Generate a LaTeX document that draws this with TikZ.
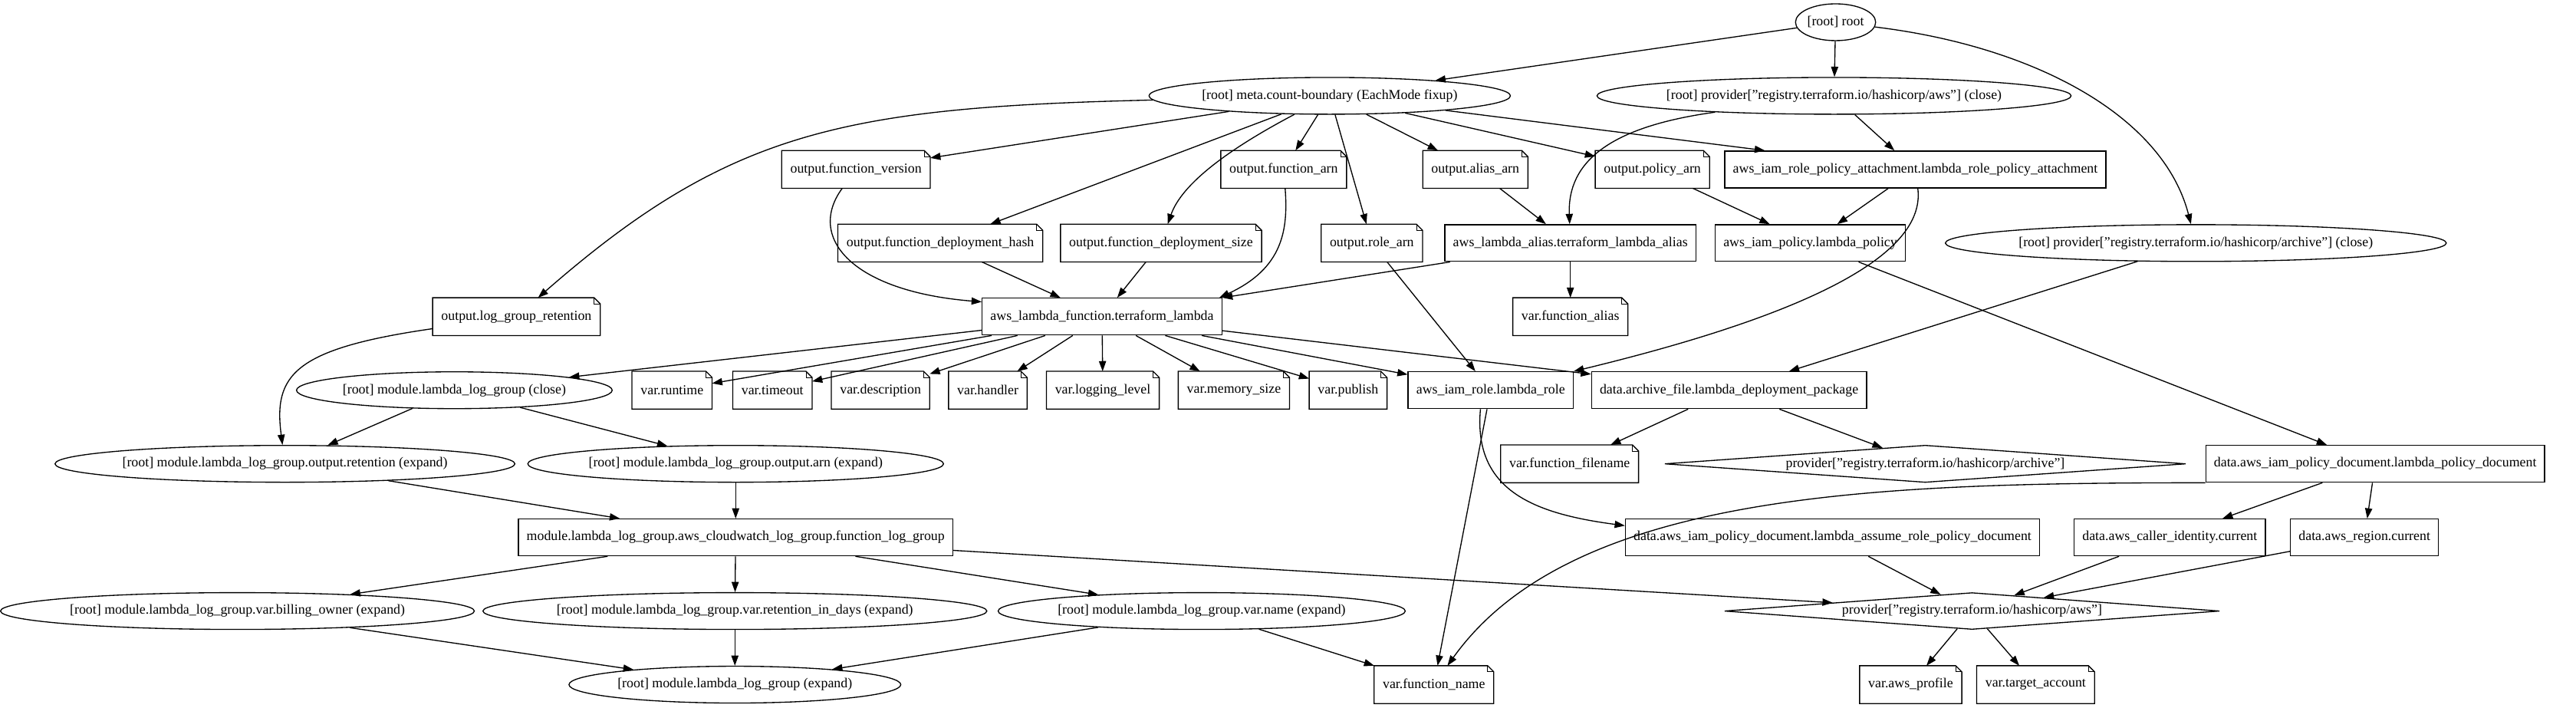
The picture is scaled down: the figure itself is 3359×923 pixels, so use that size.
\documentclass[tikz,border=0pt]{standalone}
\usepackage{fontspec}
\setmainfont{Liberation Serif}
\usetikzlibrary{shapes.geometric,arrows.meta}

\tikzset{
  gnode/.style={font=\fontsize{13.4}{16}\selectfont, inner xsep=8pt, inner ysep=0pt,
    minimum height=36pt, minimum width=54pt, line width=1pt},
  boxnode/.style={gnode, rectangle, draw},
  ovalnode/.style={gnode, ellipse, draw, inner xsep=0pt},
  notenode/.style={gnode, rectangle, append after command={\pgfextra{\let\thenote\tikzlastnode
      \draw[line width=1pt] (\thenote.north west) -- ([xshift=-6pt]\thenote.north east)
        -- ([yshift=-6pt]\thenote.north east) -- (\thenote.south east)
        -- (\thenote.south west) -- cycle;
      \draw[line width=0.6pt] ([xshift=-6pt]\thenote.north east) |- ([yshift=-6pt]\thenote.north east);}}},
  provnode/.style={gnode, diamond, draw, aspect=13.6, inner xsep=0pt, inner ysep=2.3pt},
  dep/.style={-{Triangle[length=10pt,width=7pt]}, line width=1pt},
}

\begin{document}
\begin{tikzpicture}[x=0.75pt, y=-0.75pt]

		% ==========================================
		% CANVAS
		% ==========================================
		\fill[white] (0,0) rectangle (3359,923);

		% ==========================================
		% ROOT & PROVIDER CLOSE NODES
		% ==========================================
		\node[ovalnode] (root) at (2393,29) {[root] root};
		\node[ovalnode] (meta) at (1733,125) {[root] meta.count-boundary (EachMode fixup)};
		\node[ovalnode] (awsclose) at (2391,125) {[root] provider["registry.terraform.io/hashicorp/aws"] (close)};
		\node[ovalnode] (arcclose) at (2863,317) {[root] provider["registry.terraform.io/hashicorp/archive"] (close)};

		% ==========================================
		% OUTPUTS
		% ==========================================
		\node[notenode] (fver) at (1115,221) {output.function\_version};
		\node[notenode] (farn) at (1673,221) {output.function\_arn};
		\node[notenode] (aliasarn) at (1923,221) {output.alias\_arn};
		\node[notenode] (polarn) at (2154,221) {output.policy\_arn};
		\node[notenode] (dhash) at (1225,317) {output.function\_deployment\_hash};
		\node[notenode] (dsize) at (1513,317) {output.function\_deployment\_size};
		\node[notenode] (rolearn) at (1788,317) {output.role\_arn};
		\node[notenode] (lgret) at (672,413) {output.log\_group\_retention};

		% ==========================================
		% RESOURCES
		% ==========================================
		\node[boxnode] (attach) at (2497,221) {aws\_iam\_role\_policy\_attachment.lambda\_role\_policy\_attachment};
		\node[boxnode] (alias) at (2047,317) {aws\_lambda\_alias.terraform\_lambda\_alias};
		\node[boxnode] (iampol) at (2360,317) {aws\_iam\_policy.lambda\_policy};
		\node[boxnode] (lambda) at (1436,413) {aws\_lambda\_function.terraform\_lambda};
		\node[boxnode] (iamrole) at (1943,509) {aws\_iam\_role.lambda\_role};
		\node[boxnode] (archive) at (2254,509) {data.archive\_file.lambda\_deployment\_package};
		\node[boxnode] (poldoc) at (3097,605) {data.aws\_iam\_policy\_document.lambda\_policy\_document};
		\node[boxnode] (cwlog) at (958,701) {module.lambda\_log\_group.aws\_cloudwatch\_log\_group.function\_log\_group};
		\node[boxnode] (assume) at (2389,701) {data.aws\_iam\_policy\_document.lambda\_assume\_role\_policy\_document};
		\node[boxnode] (caller) at (2829,701) {data.aws\_caller\_identity.current};
		\node[boxnode] (region) at (3083,701) {data.aws\_region.current};

		% ==========================================
		% VARIABLES
		% ==========================================
		\node[notenode] (falias) at (2047,413) {var.function\_alias};
		\node[notenode] (vruntime) at (875,509) {var.runtime};
		\node[notenode] (vtimeout) at (1006,509) {var.timeout};
		\node[notenode] (vdesc) at (1147,509) {var.description};
		\node[notenode] (vhandler) at (1287,509) {var.handler};
		\node[notenode] (vlog) at (1437,509) {var.logging\_level};
		\node[notenode] (vmem) at (1608,509) {var.memory\_size};
		\node[notenode] (vpub) at (1757,509) {var.publish};
		\node[notenode] (ffilename) at (2046,605) {var.function\_filename};
		\node[notenode] (fname) at (1869,893) {var.function\_name};
		\node[notenode] (awsprof) at (2491,893) {var.aws\_profile};
		\node[notenode] (tacct) at (2654,893) {var.target\_account};

		% ==========================================
		% MODULE NODES
		% ==========================================
		\node[ovalnode] (lgclose) at (591,509) {[root] module.lambda\_log\_group (close)};
		\node[ovalnode] (oret) at (370,605) {[root] module.lambda\_log\_group.output.retention (expand)};
		\node[ovalnode] (oarn) at (958,605) {[root] module.lambda\_log\_group.output.arn (expand)};
		\node[ovalnode] (billing) at (308,797) {[root] module.lambda\_log\_group.var.billing\_owner (expand)};
		\node[ovalnode] (retdays) at (957,797) {[root] module.lambda\_log\_group.var.retention\_in\_days (expand)};
		\node[ovalnode] (vname) at (1566,797) {[root] module.lambda\_log\_group.var.name (expand)};
		\node[ovalnode] (lgexpand) at (957,893) {[root] module.lambda\_log\_group (expand)};

		% ==========================================
		% PROVIDERS
		% ==========================================
		\node[provnode, aspect=14] (provarc) at (2510,605) {provider["registry.terraform.io/hashicorp/archive"]};
		\node[provnode] (provaws) at (2571,797) {provider["registry.terraform.io/hashicorp/aws"]};

		% ==========================================
		% DEPENDENCIES
		% ==========================================
		\draw[dep] (root) -- (meta);
		\draw[dep] (root) -- (awsclose);
		\draw[dep] (root) .. controls (2650,60) and (2820,150) .. (arcclose);

		% meta.count-boundary fans out to the outputs
		\draw[dep] (meta) .. controls (1100,140) and (950,170) .. (lgret);
		\draw[dep] (meta) .. controls (1600,195) and (1540,240) .. (dsize);
		\foreach \o in {fver, dhash, farn, rolearn, aliasarn, polarn, attach}
			\draw[dep] (meta) -- (\o);

		\draw[dep] (awsclose) .. controls (2100,165) and (2043,210) .. (alias);
		\draw[dep] (awsclose) -- (attach);

		\draw[dep] (fver) .. controls (1050,310) and (1110,380) .. (lambda.173);
		\draw[dep] (dhash) -- (lambda);
		\draw[dep] (dsize) -- (lambda);
		\draw[dep] (farn) .. controls (1679,300) and (1672,350) .. ([xshift=-3pt]lambda.north east);
		\draw[dep] (alias) -- (lambda);
		\draw[dep] (alias) -- (falias);
		\draw[dep] (aliasarn) -- (alias);
		\draw[dep] (polarn) -- (iampol);
		\draw[dep] (attach) -- (iampol);
		\draw[dep] (attach) .. controls (2510,320) and (2400,400) .. (iamrole.north east);
		\draw[dep] (rolearn) -- (iamrole);
		\draw[dep] (iampol) -- (poldoc);
		\draw[dep] (arcclose) -- (archive);

		% the lambda function needs its variables
		\foreach \v in {lgclose, vruntime, vtimeout, vdesc, vhandler, vlog, vmem, vpub, iamrole, archive}
			\draw[dep] (lambda) -- (\v);

		% log group module
		\draw[dep] (lgret) .. controls (380,455) and (355,490) .. (oret);
		\draw[dep] (lgclose) -- (oret);
		\draw[dep] (lgclose) -- (oarn);
		\draw[dep] (oret) -- (cwlog);
		\draw[dep] (oarn) -- (cwlog);
		\draw[dep] (cwlog) -- (billing);
		\draw[dep] (cwlog) -- (retdays);
		\draw[dep] (cwlog) -- (vname);
		\draw[dep] (cwlog) -- (provaws);
		\draw[dep] (billing) -- (lgexpand);
		\draw[dep] (retdays) -- (lgexpand);
		\draw[dep] (vname) -- (lgexpand);
		\draw[dep] (vname) -- (fname);

		% iam role & data sources
		\draw[dep] (iamrole) -- (fname);
		\draw[dep] ([xshift=-10pt]iamrole.south) .. controls (1920,640) and (2000,670) .. ([yshift=-7pt]assume.north west);
		\draw[dep] (archive) -- (ffilename);
		\draw[dep] (archive) -- (provarc);
		\draw[dep] (poldoc.south west) .. controls (2450,630) and (2050,640) .. (fname);
		\draw[dep] (poldoc) -- (caller);
		\draw[dep] (poldoc) -- (region);
		\draw[dep] (assume) -- (provaws);
		\draw[dep] (caller) -- (provaws);
		\draw[dep] (region) -- (provaws);
		\draw[dep] (provaws) -- (awsprof);
		\draw[dep] (provaws) -- (tacct);

	\end{tikzpicture}
\end{document}
